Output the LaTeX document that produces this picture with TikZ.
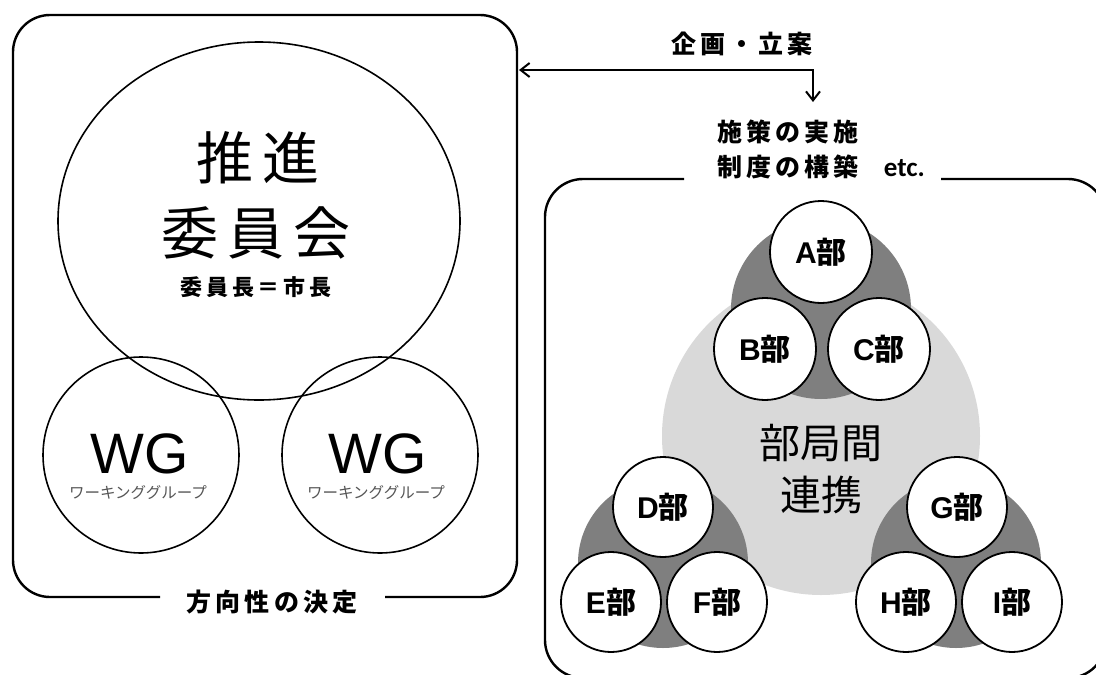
\documentclass[tikz,border=0pt]{standalone}
\usepackage{fontspec}
\setmainfont{Noto Sans CJK JP}
\newfontfamily\latfont{Liberation Sans}
\newfontfamily\etcfont{Carlito}
\usetikzlibrary{shapes.geometric, arrows.meta}
\definecolor{lightg}{HTML}{D9D9D9}
\definecolor{darkg}{HTML}{7F7F7F}
\definecolor{smallg}{HTML}{555555}
\tikzset{
  frame/.style={line width=2.4pt, rounded corners=37pt},
  bubu/.style={circle, draw, line width=1.8pt, fill=white, minimum size=102pt, inner sep=0pt,
     font=\bfseries\fontsize{30}{32}\selectfont},
  bubus/.style={bubu, minimum size=100pt},
  wg/.style={circle, draw, line width=1.6pt, minimum size=196pt, inner sep=0pt},
  halo/.style={circle, fill=darkg, inner sep=0pt},
  lbl/.style={font=\bfseries\fontsize{25}{28}\selectfont, inner sep=0pt},
  conn/.style={line width=2pt, >={Straight Barb[length=9pt,width=14pt]}},
}
\begin{document}
\begin{tikzpicture}[x=1pt,y=-1pt]
\useasboundingbox (0,0) rectangle (1096,675);

% ---- left box ----
\draw[frame] (160,597) -| (13,15) -| (517,597) -- (385,597);
\node[lbl] (houkou) at (272,602) {方\,向\,性\,の\,決\,定};

\node[ellipse, draw, line width=1.6pt, minimum width=402pt, minimum height=358pt, inner sep=0pt]
   (suishin) at (259,221) {};
\node[inner sep=0pt, font=\fontsize{57}{60}\selectfont] (t1) at (258,158) {推\,進};
\node[inner sep=0pt, font=\fontsize{57}{60}\selectfont] (t2) at (256,233) {委\,員\,会};
\node[inner sep=0pt, font=\bfseries\fontsize{22}{24}\selectfont] (t3) at (256,287) {委\,員\,長\,＝\,市\,長};

\node[wg] (wg1) at (141,455) {};
\node[wg] (wg2) at (380,455) {};
\node[inner sep=0pt, font=\latfont\fontsize{57}{60}\selectfont] (wg1t) at (140,454) {WG};
\node[inner sep=0pt, font=\latfont\fontsize{57}{60}\selectfont] (wg2t) at (378,454) {WG};
\node[inner sep=0pt, text=smallg, font=\fontsize{15.5}{17}\selectfont] (wg1s) at (138,493) {ワーキンググループ};
\node[inner sep=0pt, text=smallg, font=\fontsize{15.5}{17}\selectfont] (wg2s) at (376,493) {ワーキンググループ};

% ---- arrow ----
\node[lbl] (kikaku) at (742,44) {企\,画\,・\,立\,案};
\coordinate (arrL) at (519,70);
\coordinate (arrD) at (813,102);
\draw[conn, <->] (arrL) -| (arrD);

\node[lbl, anchor=west] (shisaku) at (717,132) {施\,策\,の\,実\,施};
\node[lbl, anchor=west] (seido) at (717,167) {制\,度\,の\,構\,築\quad{\etcfont\bfseries\fontsize{27}{28}\selectfont etc.}};

% ---- right box ----
\draw[frame, rounded corners=38pt] (684,179) -| (545,678) -| (1106,179) -- (941,179);

\node[circle, fill=lightg, minimum size=318pt, inner sep=0pt] (renkei) at (821,436) {};
\node[halo, minimum size=180pt] (haloA) at (821,309) {};
\node[halo, minimum size=170pt] (haloD) at (663,563) {};
\node[halo, minimum size=170pt] (haloG) at (956,563) {};

\node[inner sep=0pt, font=\fontsize{41}{44}\selectfont] (rk1) at (821,443) {部局間};
\node[inner sep=0pt, font=\fontsize{41}{44}\selectfont] (rk2) at (821,495) {連携};

\node[bubu] (A) at (821,252) {{\latfont\bfseries A}部};
\node[bubu] (B) at (765,349) {{\latfont\bfseries B}部};
\node[bubu] (C) at (879,349) {{\latfont\bfseries C}部};
\node[bubus] (D) at (663,507) {{\latfont\bfseries D}部};
\node[bubus] (E) at (611,602) {{\latfont\bfseries E}部};
\node[bubus] (F) at (717,602) {{\latfont\bfseries F}部};
\node[bubus] (G) at (957,507) {{\latfont\bfseries G}部};
\node[bubus] (H) at (906,602) {{\latfont\bfseries H}部};
\node[bubus] (I) at (1012,602) {{\latfont\bfseries I}部};
\end{tikzpicture}
\end{document}
